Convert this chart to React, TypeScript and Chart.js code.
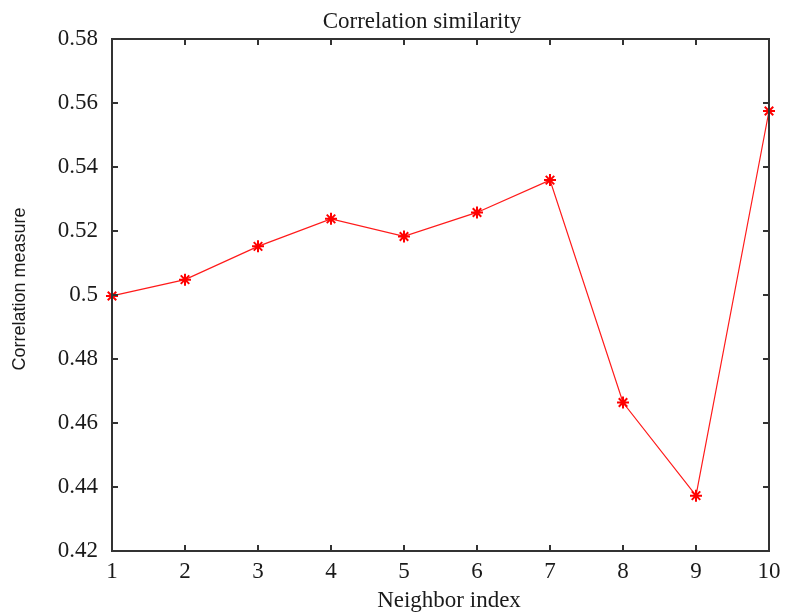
import React, { useEffect, useRef } from "react";
import { Chart, registerables } from "chart.js";

Chart.register(...registerables);

const neighborIndex = [1, 2, 3, 4, 5, 6, 7, 8, 9, 10];
const correlation = [0.4997, 0.5048, 0.5152, 0.5238, 0.5183, 0.5258, 0.5359, 0.4664, 0.4373, 0.5575];
const yTicks = [0.42, 0.44, 0.46, 0.48, 0.5, 0.52, 0.54, 0.56, 0.58];

const chartTitle = "Correlation similarity";
const xTitle = "Neighbor index";
const yTitle = "Correlation measure";

const SERIF = "'Liberation Serif', 'Times New Roman', serif";
const SANS = "'Liberation Sans', Arial, sans-serif";
const AXIS = "#333333";
const TEXT = "#1a1a1a";

const framePlugin = {
  id: "frame",
  afterDraw(chart: any) {
    const { ctx, chartArea } = chart;
    const { left, right, top, bottom } = chartArea;
    const xs = chart.scales.x;
    const ys = chart.scales.y;
    ctx.save();
    ctx.strokeStyle = AXIS;
    ctx.lineWidth = 2;
    ctx.strokeRect(left, top, right - left, bottom - top);
    const tl = 6;
    ctx.beginPath();
    xs.ticks.forEach((t: any) => {
      const px = Math.round(xs.getPixelForValue(t.value));
      ctx.moveTo(px, bottom);
      ctx.lineTo(px, bottom - tl);
      ctx.moveTo(px, top);
      ctx.lineTo(px, top + tl);
    });
    ys.ticks.forEach((t: any) => {
      const py = Math.round(ys.getPixelForValue(t.value));
      ctx.moveTo(left, py);
      ctx.lineTo(left + tl, py);
      ctx.moveTo(right, py);
      ctx.lineTo(right - tl, py);
    });
    ctx.stroke();

    ctx.fillStyle = TEXT;
    ctx.textAlign = "center";
    ctx.textBaseline = "alphabetic";
    ctx.font = `23px ${SERIF}`;
    ctx.fillText(chartTitle, 422, 28);
    ctx.font = `23px ${SERIF}`;
    ctx.fillText(xTitle, 449, 607);
    ctx.translate(25, 289);
    ctx.rotate(-Math.PI / 2);
    ctx.font = `18px ${SANS}`;
    ctx.fillText(yTitle, 0, 0);
    ctx.restore();
  },
};

export default function App() {
  const ref = useRef<HTMLCanvasElement | null>(null);
  useEffect(() => {
    document.body.style.margin = "0";
    const canvas = ref.current;
    if (!canvas) return;
    const chart = new Chart(canvas, {
      type: "line",
      data: {
        datasets: [
          {
            data: neighborIndex.map((x, i) => ({ x, y: correlation[i] })),
            borderColor: "#ff1a1a",
            backgroundColor: "#ff0000",
            borderWidth: 1.2,
            pointStyle: "star",
            pointRadius: 6,
            pointBorderWidth: 2,
            pointBorderColor: "#ff0000",
            tension: 0,
            clip: false,
          } as any,
        ],
      },
      options: {
        animation: false,
        responsive: false,
        devicePixelRatio: 1,
        layout: { padding: { left: 0, right: 21, top: 39, bottom: 0 } },
        plugins: {
          legend: { display: false },
          title: { display: false },
          tooltip: { enabled: false },
        },
        scales: {
          x: {
            type: "linear",
            min: 1,
            max: 10,
            grid: { display: false, drawTicks: false },
            border: { display: false },
            afterFit: (s: any) => {
              s.height = 65;
            },
            afterBuildTicks: (s: any) => {
              s.ticks = neighborIndex.map((v) => ({ value: v }));
            },
            ticks: {
              padding: 7,
              maxRotation: 0,
              autoSkip: false,
              color: TEXT,
              font: { family: SERIF, size: 23 },
              callback: (v: any) => String(v),
            },
          },
          y: {
            type: "linear",
            min: 0.42,
            max: 0.58,
            grid: { display: false, drawTicks: false },
            border: { display: false },
            afterFit: (s: any) => {
              s.width = 112;
            },
            afterBuildTicks: (s: any) => {
              s.ticks = yTicks.map((v) => ({ value: v }));
            },
            ticks: {
              padding: 14,
              autoSkip: false,
              color: TEXT,
              font: { family: SERIF, size: 23 },
              callback: (v: any) => String(Number(Number(v).toFixed(2))),
            },
          },
        },
      },
      plugins: [framePlugin],
    });
    return () => chart.destroy();
  }, []);
  return (
    <div style={{ width: 790, height: 616, background: "#fff" }}>
      <canvas ref={ref} width={790} height={616} style={{ display: "block" }} />
    </div>
  );
}
